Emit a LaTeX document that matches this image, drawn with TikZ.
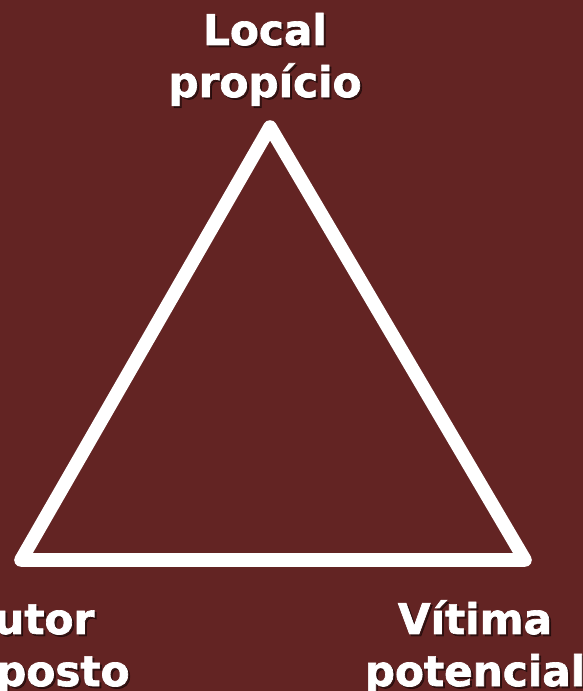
\documentclass[tikz,border=0pt]{standalone}
\usepackage{fontspec}
\setmainfont{DejaVu Sans}
\newfontfamily\heavyfont{DejaVu Sans Bold}[FakeBold=1.6]
\usepackage{xcolor}
\definecolor{bgred}{HTML}{632423}

\begin{document}
\begin{tikzpicture}[x=0.025cm, y=-0.025cm,
    label/.style={text=white, align=center, inner sep=0pt, anchor=base,
        font=\heavyfont\fontsize{30}{37}\selectfont},
    shadow/.style={label, text=black, opacity=0.45},
    side/.style={draw=white, line width=0.34cm, line join=round, line cap=round}]

    % Background
    \fill[bgred] (0,0) rectangle (583,691);
    \useasboundingbox (0,0) rectangle (583,691);

    % Corners of the triangle
    \coordinate (top) at (270,127);
    \coordinate (left) at (21,560);
    \coordinate (right) at (525,560);

    % Triangle
    \draw[side] (top) -- (left) -- (right) -- cycle;

    % Labels with shadows
    \node[shadow] (lsh) at (267,99) {Local\\propício};
    \node[label] (local) at (265,97) {Local\\propício};
    \node[shadow] (ash) at (30,688) {Autor\\disposto};
    \node[label] (autor) at (28,686) {Autor\\disposto};
    \node[shadow] (vsh) at (477,688) {Vítima\\potencial};
    \node[label] (vitima) at (475,686) {Vítima\\potencial};

\end{tikzpicture}
\end{document}
